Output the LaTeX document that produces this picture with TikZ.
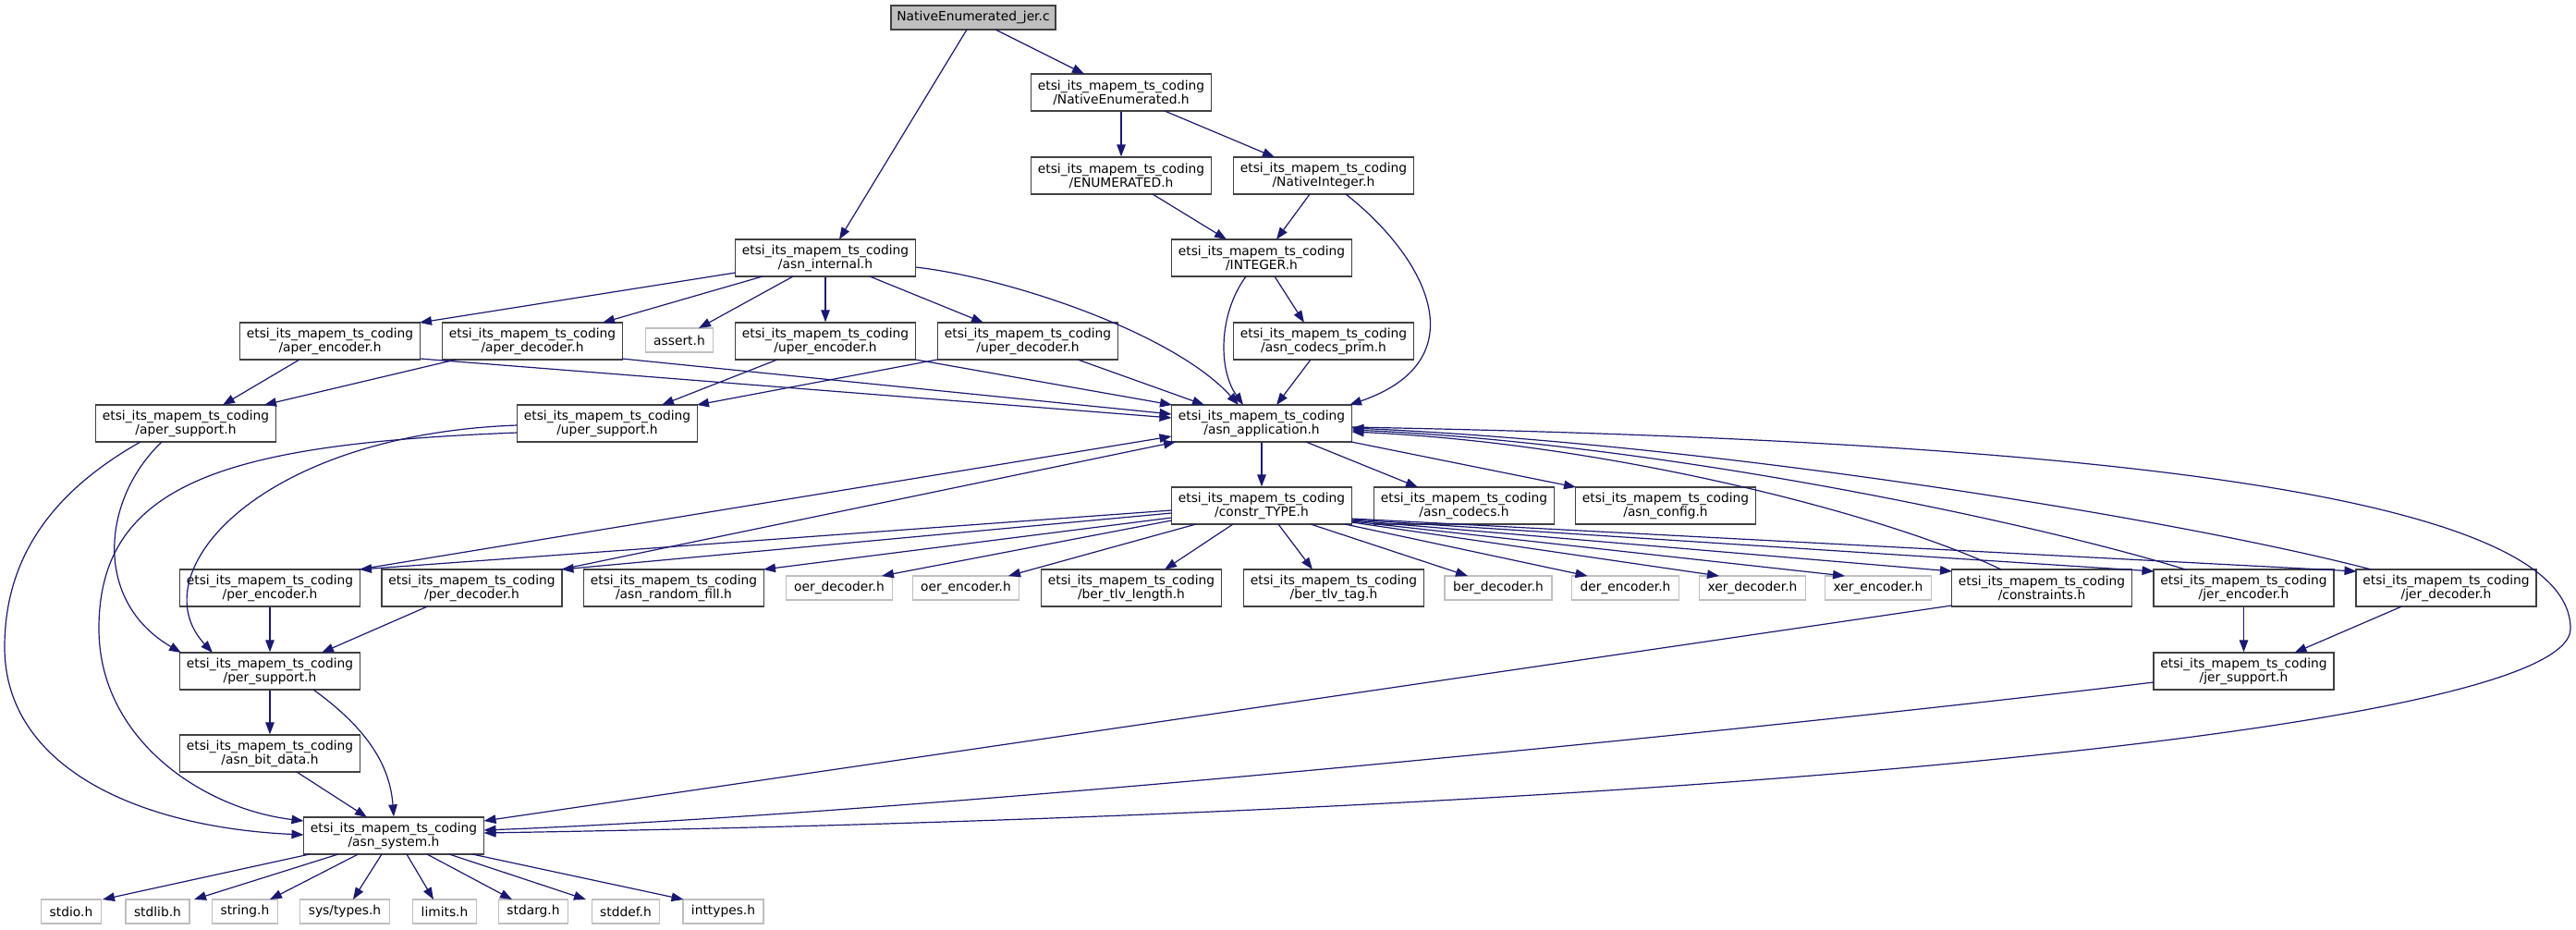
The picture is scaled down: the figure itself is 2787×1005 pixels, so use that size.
\documentclass[tikz,border=0pt]{standalone}
\usepackage{fontspec}
\setmainfont{DejaVu Sans}
\usetikzlibrary{arrows.meta,calc}
\definecolor{edgec}{HTML}{191970}
\definecolor{bdr}{HTML}{404040}
\definecolor{extc}{HTML}{BFBFBF}
\newcommand{\lblfont}{\fontsize{13.8}{15}\selectfont}
\tikzset{
  incbox/.style={draw=bdr, line width=1.3pt, minimum width=195pt, minimum height=40pt, inner sep=0pt, align=center, font=\lblfont},
  extbox/.style={draw=extc, line width=1.3pt, minimum height=26pt, inner xsep=9pt, inner ysep=0pt, font=\lblfont},
  rootbox/.style={draw=bdr, fill=extc, line width=1.3pt, minimum width=178pt, minimum height=26pt, inner sep=0pt, font=\lblfont},
  dep/.style={draw=edgec, line width=1.2pt, -{Triangle[length=13pt,width=9.5pt]}, fill=none},
}
\newcommand{\pfx}{etsi\_its\_mapem\_ts\_coding\\}
\begin{document}
\begin{tikzpicture}[x=1pt,y=-1pt]
\useasboundingbox (0,0) rectangle (2787,1005);
% nodes
\node[rootbox] (root) at (1053,19) {NativeEnumerated\_jer.c};
\node[incbox] (NEh) at (1213,100) {\pfx/NativeEnumerated.h};
\node[incbox] (ENh) at (1213,190) {\pfx/ENUMERATED.h};
\node[incbox] (NIh) at (1432,190) {\pfx/NativeInteger.h};
\node[incbox] (AIh) at (893,279) {\pfx/asn\_internal.h};
\node[incbox] (INTh) at (1365,279) {\pfx/INTEGER.h};
\node[incbox] (ACPh) at (1432,369) {\pfx/asn\_codecs\_prim.h};
\node[incbox] (aperenc) at (357,369) {\pfx/aper\_encoder.h};
\node[incbox] (aperdec) at (576,369) {\pfx/aper\_decoder.h};
\node[extbox] (assert) at (735,368) {assert.h};
\node[incbox] (uperenc) at (893,369) {\pfx/uper\_encoder.h};
\node[incbox] (uperdec) at (1112,369) {\pfx/uper\_decoder.h};
\node[incbox] (apersup) at (201,458) {\pfx/aper\_support.h};
\node[incbox] (upersup) at (657,458) {\pfx/uper\_support.h};
\node[incbox] (asnapp) at (1365,458) {\pfx/asn\_application.h};
\node[incbox] (constr) at (1365,547) {\pfx/constr\_TYPE.h};
\node[incbox] (codecs) at (1584,547) {\pfx/asn\_codecs.h};
\node[incbox] (config) at (1802,547) {\pfx/asn\_config.h};
\node[incbox] (perenc) at (292,636) {\pfx/per\_encoder.h};
\node[incbox] (perdec) at (510.5,636) {\pfx/per\_decoder.h};
\node[incbox] (randfill) at (729,636) {\pfx/asn\_random\_fill.h};
\node[extbox] (oerdec) at (908,636) {oer\_decoder.h};
\node[extbox] (oerenc) at (1045,636) {oer\_encoder.h};
\node[incbox] (berlen) at (1224,636) {\pfx/ber\_tlv\_length.h};
\node[incbox] (bertag) at (1443,636) {\pfx/ber\_tlv\_tag.h};
\node[extbox] (berdec) at (1621,636) {ber\_decoder.h};
\node[extbox] (derenc) at (1758.5,636) {der\_encoder.h};
\node[extbox] (xerdec) at (1896,636) {xer\_decoder.h};
\node[extbox] (xerenc) at (2032,636) {xer\_encoder.h};
\node[incbox] (constraints) at (2209,636) {\pfx/constraints.h};
\node[incbox] (jerenc) at (2427.5,636) {\pfx/jer\_encoder.h};
\node[incbox] (jerdec) at (2646.5,636) {\pfx/jer\_decoder.h};
\node[incbox] (persup) at (292,726) {\pfx/per\_support.h};
\node[incbox] (bitdata) at (292,815) {\pfx/asn\_bit\_data.h};
\node[incbox] (jersup) at (2427.5,726) {\pfx/jer\_support.h};
\node[incbox] (asnsys) at (426,904) {\pfx/asn\_system.h};
\node[extbox] (stdio) at (77,986) {stdio.h};
\node[extbox] (stdlib) at (170.5,986) {stdlib.h};
\node[extbox] (string) at (265,986) {string.h};
\node[extbox] (systypes) at (373,986) {sys/types.h};
\node[extbox] (limits) at (481,986) {limits.h};
\node[extbox] (stdarg) at (577,986) {stdarg.h};
\node[extbox] (stddef) at (677,986) {stddef.h};
\node[extbox] (inttypes) at (782.5,986) {inttypes.h};
% edges
\draw[dep] ($(root)+(24,13)$) -- ($(NEh)+(-40,-20)$);
\draw[dep] ($(root)+(-7,13)$) -- ($(AIh)+(15,-20)$);
\draw[dep] (NEh.south) -- (ENh.north);
\draw[dep] ($(NEh)+(47,20)$) -- ($(NIh)+(-53,-20)$);
\draw[dep] ($(ENh)+(34,20)$) -- ($(INTh)+(-38,-20)$);
\draw[dep] ($(NIh)+(-15,20)$) -- ($(INTh)+(16,-20)$);
\draw[dep] ($(NIh)+(24,20)$) .. controls (1545,280) and (1600,390) .. ($(asnapp)+(95,-20)$);
\draw[dep] ($(INTh)+(-17,20)$) .. controls (1318,340) and (1318,400) .. ($(asnapp)+(-20,-20)$);
\draw[dep] ($(INTh)+(14,20)$) -- ($(ACPh)+(-21,-20)$);
\draw[dep] ($(ACPh)+(-14,20)$) -- ($(asnapp)+(16,-20)$);
\draw[dep] ($(AIh)+(-97.5,16)$) -- ($(aperenc)+(97,-20)$);
\draw[dep] ($(AIh)+(-68,20)$) -- ($(aperdec)+(76,-20)$);
\draw[dep] ($(AIh)+(-35,20)$) -- ($(assert)+(21,-13)$);
\draw[dep] (AIh.south) -- (uperenc.north);
\draw[dep] ($(AIh)+(48,20)$) -- ($(uperdec)+(-48,-20)$);
\draw[dep] ($(AIh)+(97.5,10)$) .. controls (1090,300) and (1270,360) .. ($(asnapp)+(-25,-20)$);
\draw[dep] ($(aperenc)+(-33,20)$) -- ($(apersup)+(40,-20)$);
\draw[dep] ($(aperenc)+(97.5,19)$) -- ($(asnapp)+(-97.5,-6)$);
\draw[dep] ($(aperdec)+(-83,20)$) -- ($(apersup)+(85,-20)$);
\draw[dep] ($(aperdec)+(97,19)$) -- ($(asnapp)+(-97.5,-10)$);
\draw[dep] ($(uperenc)+(-52,20)$) -- ($(upersup)+(59,-20)$);
\draw[dep] ($(uperenc)+(97.5,20)$) -- ($(asnapp)+(-97,-20)$);
\draw[dep] ($(uperdec)+(-98,20)$) -- ($(upersup)+(97,-20)$);
\draw[dep] ($(uperdec)+(54,20)$) -- ($(asnapp)+(-62,-20)$);
\draw[dep] ($(apersup)+(-26,20)$) .. controls (110,540) and (100,650) .. ($(persup)+(-96,-20)$);
\draw[dep] ($(apersup)+(-49,20)$) .. controls (60,530) and (5,600) .. (5,700) .. controls (5,830) and (150,895) .. ($(asnsys)+(-97.5,-1)$);
\draw[dep] ($(upersup)+(-97.5,2)$) .. controls (280,470) and (150,620) .. ($(persup)+(-62,-20)$);
\draw[dep] ($(upersup)+(-97.5,10)$) .. controls (250,480) and (107,520) .. (107,680) .. controls (107,800) and (220,875) .. ($(asnsys)+(-97.5,-16)$);
\draw[dep] (asnapp.south) -- (constr.north);
\draw[dep] ($(asnapp)+(48,20)$) -- ($(codecs)+(-50,-20)$);
\draw[dep] ($(asnapp)+(97,20)$) -- ($(config)+(-97,-20)$);
\draw[dep] ($(asnapp)+(97.5,4)$) .. controls (2150,475) and (2781,520) .. (2781,680) .. controls (2781,790) and (1800,880) .. ($(asnsys)+(97.5,-3)$);
\draw[dep] ($(constr)+(-97.5,5)$) -- ($(perenc)+(97,-20)$);
\draw[dep] ($(constr)+(-97.5,8)$) -- ($(perdec)+(97,-20)$);
\draw[dep] ($(constr)+(-97.5,13)$) -- ($(randfill)+(97,-20)$);
\draw[dep] ($(constr)+(-97.5,16)$) -- ($(oerdec)+(46,-13)$);
\draw[dep] ($(constr)+(-71,20)$) -- ($(oerenc)+(46,-13)$);
\draw[dep] ($(constr)+(-31,20)$) -- ($(berlen)+(36,-20)$);
\draw[dep] ($(constr)+(18,20)$) -- ($(bertag)+(-23,-20)$);
\draw[dep] ($(constr)+(53,20)$) -- ($(berdec)+(-33,-13)$);
\draw[dep] ($(constr)+(90,20)$) -- ($(derenc)+(-41,-13)$);
\draw[dep] ($(constr)+(97.5,18)$) -- ($(xerdec)+(-36,-13)$);
\draw[dep] ($(constr)+(97.5,17)$) -- ($(xerenc)+(-36,-13)$);
\draw[dep] ($(constr)+(97.5,16)$) -- ($(constraints)+(-97,-18)$);
\draw[dep] ($(constr)+(97.5,15)$) -- ($(jerenc)+(-97,-18)$);
\draw[dep] ($(constr)+(97.5,14)$) -- ($(jerdec)+(-97,-18)$);
\draw[dep] ($(perenc)+(96,-20)$) -- ($(asnapp)+(-97.5,14)$);
\draw[dep] (perenc.south) -- (persup.north);
\draw[dep] ($(perdec)+(96,-20)$) -- ($(asnapp)+(-93,20)$);
\draw[dep] ($(perdec)+(-48,20)$) -- ($(persup)+(56,-20)$);
\draw[dep] ($(constraints)+(-44,-20)$) .. controls (2050,560) and (1750,480) .. ($(asnapp)+(97.5,9)$);
\draw[dep] ($(jerenc)+(-63,-20)$) .. controls (2200,565) and (1800,480) .. ($(asnapp)+(97.5,7)$);
\draw[dep] ($(jerdec)+(-81,-20)$) .. controls (2350,560) and (1850,480) .. ($(asnapp)+(97.5,5)$);
\draw[dep] ($(constraints)+(-97.5,19)$) -- ($(asnsys)+(97.5,-16)$);
\draw[dep] (jerenc.south) -- (jersup.north);
\draw[dep] ($(jerdec)+(-48,20)$) -- ($(jersup)+(55,-20)$);
\draw[dep] ($(jersup)+(-97.5,12)$) .. controls (1900,790) and (1000,880) .. ($(asnsys)+(97.5,-6)$);
\draw[dep] (persup.south) -- (bitdata.north);
\draw[dep] ($(persup)+(47,20)$) .. controls (400,790) and (422,830) .. (asnsys.north);
\draw[dep] ($(bitdata)+(29,20)$) -- ($(asnsys)+(-29,-20)$);
\draw[dep] ($(asnsys)+(-91,20)$) -- ($(stdio)+(34,-13)$);
\draw[dep] ($(asnsys)+(-60,20)$) -- ($(stdlib)+(39.5,-13)$);
\draw[dep] ($(asnsys)+(-38.5,20)$) -- ($(string)+(27,-13)$);
\draw[dep] ($(asnsys)+(-13,20)$) -- ($(systypes)+(9,-13)$);
\draw[dep] ($(asnsys)+(14,20)$) -- ($(limits)+(-12,-13)$);
\draw[dep] ($(asnsys)+(36,20)$) -- ($(stdarg)+(-23,-13)$);
\draw[dep] ($(asnsys)+(60,20)$) -- ($(stddef)+(-43,-13)$);
\draw[dep] ($(asnsys)+(85,20)$) -- ($(inttypes)+(-43,-13)$);
\end{tikzpicture}
\end{document}
